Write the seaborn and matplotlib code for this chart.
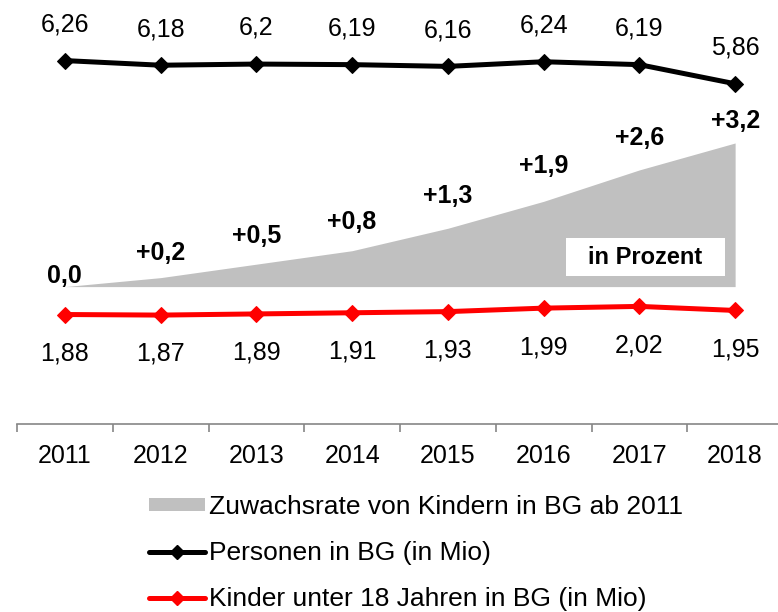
import numpy as np
import pandas as pd
import matplotlib
matplotlib.use("Agg")
import matplotlib.pyplot as plt
import seaborn as sns
from matplotlib.patches import Patch, Rectangle
from matplotlib.lines import Line2D

jahre = ["2011", "2012", "2013", "2014", "2015", "2016", "2017", "2018"]
personen = [6.26, 6.18, 6.2, 6.19, 6.16, 6.24, 6.19, 5.86]
kinder = [1.88, 1.87, 1.89, 1.91, 1.93, 1.99, 2.02, 1.95]
zuwachs = [0.0, 0.2, 0.5, 0.8, 1.3, 1.9, 2.6, 3.2]
zuwachs_text = ["0,0", "+0,2", "+0,5", "+0,8", "+1,3", "+1,9", "+2,6", "+3,2"]

# Abstand der fetten Beschriftungen über der Fläche (Pixel)
zuwachs_abstand = [11, 25, 28, 29, 32, 35, 32, 22]

sns.set_style("white")
plt.rcParams["font.family"] = ["Liberation Sans", "DejaVu Sans"]
plt.rcParams["text.color"] = "black"
plt.rcParams["xtick.color"] = "black"

df = pd.DataFrame({"pos": np.arange(len(jahre)), "Jahr": jahre,
                   "Personen": personen, "Kinder": kinder, "Zuwachs": zuwachs})

fig = plt.figure(figsize=(7.78, 6.12), dpi=100)
ax = fig.add_axes([17 / 778, 1 - 423.5 / 612, 766 / 778, 403.5 / 612])
ax2 = ax.twinx()

# grauer Bereich auf Nebenachse
ax2.fill_between(df["pos"], 0, df["Zuwachs"], color="#c0c0c0", linewidth=0)
ax2.set_ylim(-3.05, 5.94)
ax2.axis("off")

ax.set_zorder(ax2.get_zorder() + 1)
ax.patch.set_visible(False)

sns.lineplot(data=df, x="pos", y="Personen", ax=ax, color="black", linewidth=3.6,
             marker="D", markersize=8, markeredgecolor="black")
sns.lineplot(data=df, x="pos", y="Kinder", ax=ax, color="#ff0000", linewidth=3.6,
             marker="D", markersize=8, markeredgecolor="#ff0000")
ax.set_ylim(0, 6.96)
ax.set_xlim(-0.5, len(jahre) - 0.5)

for x, v in zip(df["pos"], personen):
    ax.annotate(f"{v:g}".replace(".", ","), (x, v), xytext=(0, 26), textcoords="offset points",
                ha="center", va="center", fontsize=18)
for x, v in zip(df["pos"], kinder):
    ax.annotate(f"{v:g}".replace(".", ","), (x, v), xytext=(0, -28), textcoords="offset points",
                ha="center", va="center", fontsize=18)
for x, v, t, d in zip(df["pos"], zuwachs, zuwachs_text, zuwachs_abstand):
    ax2.annotate(t, (x, v), xytext=(0, d * 0.72), textcoords="offset points",
                 ha="center", va="center", fontsize=18, fontweight="bold")

# Kasten "in Prozent"
ax.add_patch(Rectangle((566 / 778, 1 - 276 / 612), 159 / 778, 38 / 612, transform=fig.transFigure,
                       facecolor="white", edgecolor="none", clip_on=False))
ax.text(645.5 / 778, 1 - 257 / 612, "in Prozent", transform=fig.transFigure, ha="center", va="center",
        fontsize=17, fontweight="bold")

# Achsen
for s in ["top", "right", "left"]:
    ax.spines[s].set_visible(False)
ax.spines["bottom"].set_color("#868686")
ax.spines["bottom"].set_linewidth(1.2)
ax.set_yticks([])
ax.set_xticks(df["pos"])
ax.set_xticklabels(jahre, fontsize=18)
ax.set_xticks(np.arange(-0.5, len(jahre), 1), minor=True)
ax.tick_params(axis="x", which="major", length=0, pad=15)
ax.tick_params(axis="x", which="minor", bottom=True, length=6, color="#868686", width=1.2,
               direction="out")
ax.set_xlabel("")
ax.set_ylabel("")

handles = [
    Patch(facecolor="#c0c0c0", edgecolor="none"),
    Line2D([], [], color="black", linewidth=3.6, marker="D", markersize=7),
    Line2D([], [], color="#ff0000", linewidth=3.6, marker="D", markersize=7),
]
labels = ["Zuwachsrate von Kindern in BG ab 2011", "Personen in BG (in Mio)",
          "Kinder unter 18 Jahren in BG (in Mio)"]
fig.legend(handles, labels, loc="upper left", bbox_to_anchor=(149 / 778, 1 - 495 / 612),
           frameon=False, fontsize=19, handlelength=2.12, handleheight=0.38,
           handletextpad=0.15, labelspacing=0.84, borderaxespad=0, borderpad=0)

fig.savefig("out.png", dpi=100)
